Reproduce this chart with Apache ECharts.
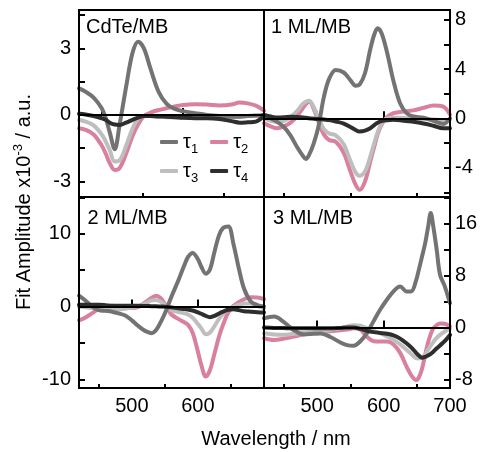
<!DOCTYPE html>
<html>
<head>
<meta charset="utf-8">
<script src="https://cdn.jsdelivr.net/npm/echarts@6/dist/echarts.min.js"></script>
<style>
html,body{margin:0;padding:0;background:#fff;}
#chart{width:484px;height:452px;}
</style>
</head>
<body>
<div id="chart"></div>
<script>
// ---- Data ----
const panelLabels = ['CdTe/MB', '1 ML/MB', '2 ML/MB', '3 ML/MB'];
const seriesNames = ['τ1', 'τ2', 'τ3', 'τ4'];

// CdTe/MB
const wlCdTe = [472,480,490,500,505,510,516,522,530,538,545,552,560,570,580,590,600,615,630,645,660,670,680,690,700];
const cdteT1 = [1.2,1.05,0.78,0.3,-0.15,-0.8,-1.55,-0.45,1.25,2.8,3.3,3.0,2.1,1.05,0.5,0.27,0.17,0.08,0,-0.05,-0.08,-0.08,-0.05,-0.03,0];
const cdteT2 = [-0.6,-0.67,-0.88,-1.38,-1.75,-2.18,-2.48,-2.4,-1.75,-0.95,-0.42,-0.05,0.1,0.22,0.3,0.38,0.45,0.48,0.47,0.43,0.47,0.56,0.52,0.42,0.2];
const cdteT3 = [-0.22,-0.3,-0.47,-0.88,-1.2,-1.6,-2.1,-2.05,-1.4,-0.62,-0.17,-0.05,-0.05,-0.08,-0.1,-0.1,-0.12,-0.12,-0.12,-0.1,-0.1,-0.08,-0.05,-0.05,-0.05];
const cdteT4 = [0.05,0.02,-0.05,-0.15,-0.22,-0.35,-0.43,-0.45,-0.35,-0.22,-0.12,-0.05,-0.05,-0.07,-0.08,-0.1,-0.13,-0.15,-0.15,-0.18,-0.28,-0.35,-0.33,-0.3,-0.05];

// 1 ML/MB
const wl1ML = [420,430,440,450,460,470,478,483,488,495,502,510,518,528,540,550,558,564,572,580,586,591,597,605,615,625,635,645,660,675,690,700];
const ml1T1 = [0.28,0.0,-0.3,-0.7,-1.4,-2.35,-3.0,-3.3,-2.95,-2.0,-0.66,1.7,3.2,3.93,3.72,3.1,2.65,2.75,3.66,5.6,6.8,7.3,6.9,5.4,3.0,1.2,0.4,0.15,0.05,-0.2,-0.45,0.0];
const ml1T2 = [-0.4,-0.65,-0.8,-0.65,-0.35,0.2,0.8,1.15,1.36,0.75,-0.3,-1.3,-1.75,-1.9,-2.8,-4.3,-5.4,-5.8,-5.12,-3.5,-2.3,-1.3,-0.5,0.1,0.42,0.52,0.58,0.65,0.85,1.05,0.95,0.3];
const ml1T3 = [0.0,-0.2,-0.28,-0.2,0.1,0.6,1.15,1.35,1.42,0.9,0.0,-0.85,-1.22,-1.38,-2.1,-3.45,-4.4,-4.66,-4.3,-3.1,-2.0,-1.15,-0.4,0.0,0.05,0.05,0.0,0.0,-0.05,-0.1,-0.15,-0.1];
const ml1T4 = [0.28,0.15,0.06,0.08,0.14,0.12,0.08,0.05,0.0,-0.03,-0.06,-0.1,-0.14,-0.25,-0.42,-0.7,-0.95,-1.07,-1.0,-0.8,-0.55,-0.35,-0.22,-0.15,-0.12,-0.15,-0.22,-0.28,-0.42,-0.6,-0.8,-0.8];

// 2 ML/MB
const wl2ML = [420,430,440,450,460,470,480,490,500,510,520,530,537,545,552,560,570,580,585,592,600,605,612,618,625,632,638,646,654,662,670,680,690,700];
const ml2T1 = [1.5,0.8,0.0,-0.5,-0.6,-0.72,-0.95,-1.25,-1.9,-2.7,-3.35,-3.66,-3.2,-1.9,-0.5,1.38,3.5,5.8,6.8,7.34,6.5,5.5,4.5,5.05,7.5,9.8,10.8,11.0,8.5,5.2,2.4,0.7,0.2,0];
const ml2T2 = [-1.9,-1.5,-0.9,-0.3,0.05,0.1,0.0,-0.2,-0.2,-0.05,0.55,1.2,1.47,1.0,0.0,-1.1,-1.7,-2.2,-2.52,-3.6,-6.2,-8.0,-9.63,-8.8,-6.5,-4.1,-2.5,-0.8,0.1,0.6,1.0,1.28,1.25,1.0];
const ml2T3 = [0.0,-0.1,-0.22,-0.32,-0.4,-0.45,-0.42,-0.3,-0.15,0.05,0.4,0.85,0.9,0.6,0.0,-0.5,-0.75,-0.95,-1.1,-1.55,-2.4,-3.0,-3.8,-3.6,-2.7,-1.7,-1.0,-0.4,0.0,0.25,0.42,0.4,0.1,-0.25];
const ml2T4 = [0.23,0.25,0.25,0.23,0.18,0.12,0.1,0.1,0.1,0.1,0.08,0.05,0.02,0.0,-0.05,-0.12,-0.25,-0.35,-0.42,-0.55,-0.8,-1.0,-1.3,-1.46,-1.3,-0.95,-0.7,-0.45,-0.37,-0.5,-0.65,-0.72,-0.78,-0.82];

// 3 ML/MB
const wl3ML = [420,435,450,465,480,495,505,520,535,545,555,565,575,585,595,605,615,625,635,642,649,653,658,663,667,671,675,680,685,692,700];
const ml3T1 = [1.45,1.7,0.85,-0.4,-1.05,-0.95,-0.9,-1.45,-2.3,-2.7,-2.8,-2.1,-0.85,1.0,2.8,4.3,5.6,6.34,5.56,5.6,7.3,8.9,11.0,13.2,15.5,17.68,15.5,12.0,8.15,6.4,3.77];
const ml3T2 = [-1.64,-1.9,-1.7,-1.38,-1.05,-0.8,-0.7,-0.55,-0.4,-0.28,-0.12,-0.3,-1.4,-2.1,-2.16,-2.16,-2.6,-3.9,-6.1,-7.4,-8.08,-7.7,-6.3,-4.0,-2.3,-1.0,-0.1,0.4,0.65,0.6,0.15];
const ml3T3 = [-0.87,-1.05,-1.1,-0.95,-0.82,-0.7,-0.6,-0.35,-0.1,0.15,0.38,0.3,-0.1,-0.5,-0.87,-1.35,-1.9,-2.6,-3.45,-4.1,-4.7,-4.75,-4.55,-4.1,-3.4,-2.8,-2.2,-1.6,-1.13,-0.6,-0.1];
const ml3T4 = [0.0,-0.05,-0.08,-0.1,-0.1,-0.1,-0.1,-0.1,-0.05,0.0,0.0,-0.2,-0.5,-0.7,-0.82,-0.95,-1.2,-1.7,-2.45,-3.1,-3.9,-4.3,-4.64,-4.5,-4.3,-4.05,-3.7,-3.2,-2.75,-2.1,-1.13];

// Axis ticks / labels
const xMajorTicks = [500, 600];
const xMinorTicksTL = [550, 650];
const xMinorTicks = [450, 550, 650];
const xLabelsBL = [500, 600];
const xLabelsBR = [500, 600, 700];
const yTicks = [[-3,-1.5,0,1.5,3,4.5],[-6,-4,-2,0,2,4,6,8],[-10,-5,0,5,10,15],[-8,-4,0,4,8,12,16,20]];
const yLabels = [[-3,0,3],[-4,0,4,8],[-10,0,10],[-8,0,8,16]];

// ---- Layout ----
const FONT = '"Liberation Sans", Arial, sans-serif';
const colors = ['#737373', '#d8809d', '#bebebe', '#2e2e2e'];
const zOrder = [3, 1, 2, 4];
const grids = [
  {left: 79, top: 10, width: 185, height: 187},
  {left: 264, top: 10, width: 186, height: 187},
  {left: 79, top: 197, width: 185, height: 191},
  {left: 264, top: 197, width: 186, height: 191}
];
const xRanges = [[472, 700], [420, 700], [420, 700], [420, 700]];
const yRanges = [[-3.7, 4.73], [-6.38, 8.79], [-11.2, 15.05], [-9.32, 20.15]];
const panelData = [
  [wlCdTe, [cdteT1, cdteT2, cdteT3, cdteT4]],
  [wl1ML, [ml1T1, ml1T2, ml1T3, ml1T4]],
  [wl2ML, [ml2T1, ml2T2, ml2T3, ml2T4]],
  [wl3ML, [ml3T1, ml3T2, ml3T3, ml3T4]]
];

const xAxes = [], yAxes = [], series = [];
for (let p = 0; p < 4; p++) {
  const xLabelVals = p === 2 ? xLabelsBL : (p === 3 ? xLabelsBR : []);
  xAxes.push({
    type: 'value', gridIndex: p, position: 'bottom',
    min: xRanges[p][0], max: xRanges[p][1],
    axisLine: {show: true, lineStyle: {color: '#000', width: 2}},
    axisTick: {show: true, inside: true, length: 7, customValues: xMajorTicks, lineStyle: {color: '#000', width: 2}},
    axisLabel: {show: xLabelVals.length > 0, customValues: xLabelVals, fontSize: 20, color: '#000', fontFamily: FONT, margin: 8},
    splitLine: {show: false}
  });
  xAxes.push({
    type: 'value', gridIndex: p, position: 'bottom',
    min: xRanges[p][0], max: xRanges[p][1],
    axisLine: {show: false},
    axisTick: {show: true, inside: true, length: 4, customValues: p === 0 ? xMinorTicksTL : xMinorTicks, lineStyle: {color: '#000', width: 2}},
    axisLabel: {show: false},
    splitLine: {show: false}
  });
  const right = (p === 1 || p === 3);
  yAxes.push({
    type: 'value', gridIndex: p, position: right ? 'right' : 'left',
    min: yRanges[p][0], max: yRanges[p][1],
    axisLine: {show: true, lineStyle: {color: '#000', width: 2}},
    axisTick: {show: true, inside: true, length: 6, customValues: yTicks[p], lineStyle: {color: '#000', width: 2}},
    axisLabel: {show: true, customValues: yLabels[p], fontSize: 20, color: '#000', fontFamily: FONT, margin: right ? 5 : 8},
    splitLine: {show: false}
  });
  const wl = panelData[p][0];
  for (let k = 0; k < 4; k++) {
    const vals = panelData[p][1][k];
    const s = {
      type: 'line', name: seriesNames[k],
      xAxisIndex: p * 2, yAxisIndex: p,
      data: wl.map((w, i) => [w, vals[i]]),
      showSymbol: false, symbol: 'none', smooth: 0.35,
      lineStyle: {width: 4, color: colors[k], cap: 'round', join: 'round'},
      itemStyle: {color: colors[k]},
      z: zOrder[k], animation: false, silent: true
    };
    if (k === 3) {
      s.markLine = {
        silent: true, symbol: ['none', 'none'], label: {show: false},
        lineStyle: {color: '#000', width: 2, type: 'solid'},
        data: [{yAxis: 0}], animation: false
      };
    }
    series.push(s);
  }
}

const legendCommon = {
  orient: 'horizontal', icon: 'roundRect', itemWidth: 18, itemHeight: 4, itemGap: 12,
  selectedMode: false,
  formatter: name => '{t|τ}{s|' + name.slice(1) + '}',
  textStyle: {
    color: '#000', fontFamily: FONT,
    rich: {
      t: {fontSize: 20, fontFamily: FONT, color: '#000'},
      s: {fontSize: 13, fontFamily: FONT, color: '#000', padding: [14, 0, 0, 0]}
    }
  }
};

// panel frames (2px)
const frames = grids.map(g => ({
  type: 'rect', z: 100, silent: true,
  shape: {x: g.left, y: g.top, width: g.width, height: g.height},
  style: {fill: 'none', stroke: '#000', lineWidth: 2}
}));

const option = {
  backgroundColor: '#fff',
  animation: false,
  grid: grids.map(g => Object.assign({show: false, containLabel: false, outerBoundsMode: 'none'}, g)),
  xAxis: xAxes,
  yAxis: yAxes,
  legend: [
    Object.assign({data: ['τ1', 'τ2'], left: 155, top: 127}, legendCommon),
    Object.assign({data: ['τ3', 'τ4'], left: 155, top: 156}, legendCommon)
  ],
  graphic: frames.concat([
    {type: 'text', x: 86, y: 27.5, style: {text: panelLabels[0], font: '20px ' + FONT, fill: '#000', verticalAlign: 'middle'}},
    {type: 'text', x: 271, y: 27.8, style: {text: panelLabels[1], font: '20px ' + FONT, fill: '#000', verticalAlign: 'middle'}},
    {type: 'text', x: 87.5, y: 218.3, style: {text: panelLabels[2], font: '20px ' + FONT, fill: '#000', verticalAlign: 'middle'}},
    {type: 'text', x: 273, y: 218.3, style: {text: panelLabels[3], font: '20px ' + FONT, fill: '#000', verticalAlign: 'middle'}},
    {type: 'text', x: 276, y: 439, style: {text: 'Wavelength / nm', font: '20px ' + FONT, fill: '#000', align: 'center', verticalAlign: 'middle'}},
    {type: 'text', x: 24, y: 202, rotation: Math.PI / 2,
     style: {text: 'Fit Amplitude x10{sup|-3} / a.u.', font: '20px ' + FONT, fill: '#000', align: 'center', verticalAlign: 'middle',
       rich: {sup: {fontSize: 13, fontFamily: FONT, fill: '#000', padding: [0, 0, 12, 0]}}}}
  ]),
  series: series
};

const chart = echarts.init(document.getElementById('chart'), null, {renderer: 'canvas'});
chart.setOption(option);
</script>
</body>
</html>
